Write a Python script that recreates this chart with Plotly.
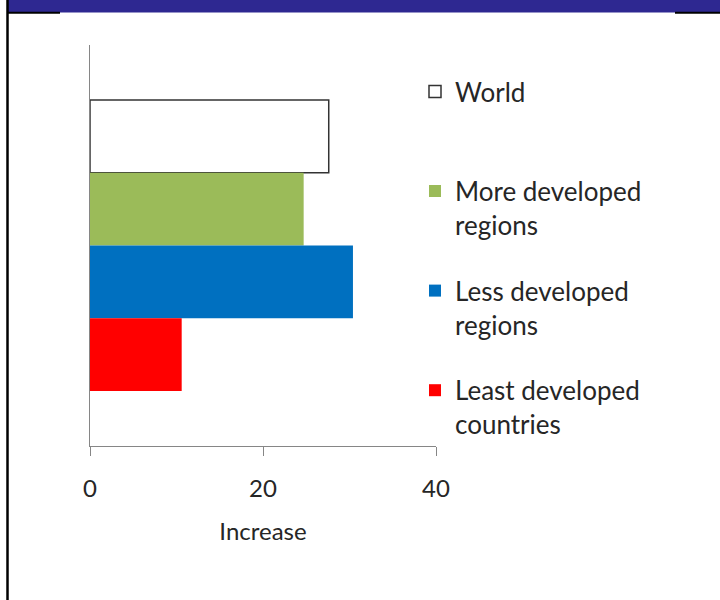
import plotly.graph_objects as go

# ---- data ----
categories = ["Increase"]
series_names = ["World", "More developed<br>regions", "Less developed<br>regions", "Least developed<br>countries"]
series_values = [27.6, 24.7, 30.4, 10.6]
series_colors = ["#FFFFFF", "#9BBB59", "#0070C0", "#FF0000"]
x_ticks = [0, 20, 40]

FONT = "Lato, 'Open Sans', sans-serif"
TXT = "#262626"
AX = "#868686"

fig = go.Figure()
for i, (name, val, col) in enumerate(zip(series_names, series_values, series_colors)):
    line = dict(color="#333333", width=1.5) if i == 0 else dict(width=0)
    fig.add_trace(go.Bar(
        y=categories, x=[val], name=(name + "<br> ") if i == 0 else name,
        orientation="h", marker=dict(color=col, line=line),
        legendgroup=f"g{i}", hoverinfo="x+name",
    ))

# page geometry (pixels) -> paper coordinates; plot area spans x 90..720, y 45..446
L, T, B = 90, 45, 446
R_AXIS = 436
W = 720 - L
def px(x):
    return (x - L) / W
def py(y):
    return (B - y) / (B - T)

shapes = [
    dict(type="rect", xref="paper", yref="paper", x0=px(8), x1=px(720), y0=py(12.5), y1=py(0),
         fillcolor="#2E2891", line=dict(width=0), layer="above"),
    dict(type="line", xref="paper", yref="paper", x0=px(7.5), x1=px(7.5), y0=py(0), y1=py(600),
         line=dict(color="#000000", width=2.5)),
    dict(type="line", xref="paper", yref="paper", x0=px(7.5), x1=px(60), y0=py(12.8), y1=py(12.8),
         line=dict(color="#000000", width=2)),
    dict(type="line", xref="paper", yref="paper", x0=px(675), x1=px(720), y0=py(12.8), y1=py(12.8),
         line=dict(color="#000000", width=2)),
]

fig.update_layout(
    width=720, height=600,
    margin=dict(l=L, r=0, t=T, b=600 - B, autoexpand=False),
    paper_bgcolor="#FFFFFF", plot_bgcolor="#FFFFFF",
    barmode="group", bargap=0.274, bargroupgap=0,
    font=dict(family=FONT, size=24, color=TXT),
    showlegend=True,
    legend=dict(
        x=px(415), y=py(68), xanchor="left", yanchor="top",
        valign="top", tracegroupgap=29, traceorder="grouped",
        font=dict(family=FONT, size=26, color=TXT),
        bgcolor="rgba(0,0,0,0)",
    ),
    shapes=shapes,
    xaxis=dict(
        domain=[0, (R_AXIS - L) / W],
        range=[0, 40], tickvals=x_ticks, ticktext=[str(v) for v in x_ticks],
        showgrid=False, zeroline=False, showline=True, linecolor=AX, linewidth=1.3,
        ticks="outside", ticklen=9, tickcolor=AX, tickwidth=1.3,
        tickfont=dict(size=24, color=TXT), ticklabelstandoff=12,
        title=dict(text="Increase", font=dict(size=24, color=TXT), standoff=22),
        fixedrange=True,
    ),
    yaxis=dict(
        autorange="reversed", showticklabels=False, ticks="",
        showgrid=False, zeroline=False, showline=True, linecolor=AX, linewidth=1.3,
        fixedrange=True,
    ),
)

fig.write_html("out.html", config={"displayModeBar": False},
               post_script="document.body.style.margin='0';")
